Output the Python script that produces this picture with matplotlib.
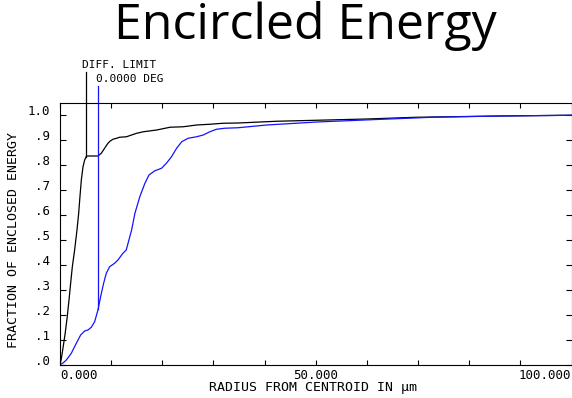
import matplotlib
matplotlib.use("Agg")
import matplotlib.pyplot as plt
from matplotlib.transforms import ScaledTranslation
import numpy as np

# Encircled energy vs radius (micrometres): diffraction limit and on-axis field
radius_diff = [0.0, 0.3, 0.6, 1.0, 1.4, 1.76, 2.08, 2.41, 2.86, 3.32, 3.65, 3.9, 4.17,
               4.5, 4.82, 5.2, 7.42, 8.07, 8.72, 9.38, 9.77, 10.35, 11.07, 11.65, 13.0,
               15.0, 16.3, 18.9, 21.5, 24.1, 26.7, 29.3, 31.9, 34.8, 42.4, 50.2, 60.0,
               69.7, 86.0, 100.0]
energy_diff = [0.0, 0.03, 0.07, 0.125, 0.19, 0.26, 0.327, 0.393, 0.46, 0.54, 0.607, 0.673, 0.74,
               0.793, 0.82, 0.836, 0.836, 0.847, 0.867, 0.887, 0.895, 0.903, 0.907, 0.911, 0.913,
               0.927, 0.933, 0.94, 0.951, 0.953, 0.96, 0.963, 0.967, 0.968, 0.975, 0.979, 0.984,
               0.991, 0.996, 0.999]

radius_field = [0.0, 0.6, 1.24, 2.21, 3.19, 4.04, 4.82, 5.47, 6.12, 6.77, 7.42, 7.94, 8.53,
                9.05, 9.7, 10.68, 11.33, 12.3, 12.95, 14.0, 14.65, 15.6, 16.6, 17.4, 18.55,
                19.86, 20.8, 21.8, 22.8, 23.8, 25.06, 26.7, 28.0, 29.3, 30.6, 32.2, 34.8,
                40.4, 50.2, 63.1, 72.9, 86.0, 100.0]
energy_field = [0.0, 0.008, 0.02, 0.047, 0.087, 0.12, 0.136, 0.14, 0.151, 0.173, 0.22, 0.273, 0.327,
                0.367, 0.393, 0.407, 0.42, 0.447, 0.46, 0.54, 0.607, 0.673, 0.727, 0.76, 0.777,
                0.787, 0.807, 0.833, 0.867, 0.893, 0.907, 0.913, 0.92, 0.933, 0.943, 0.947, 0.949,
                0.96, 0.972, 0.983, 0.991, 0.996, 0.999]

xtick_values = list(range(0, 101, 10))
xtick_labels = ["0.000", "", "", "", "", "50.000", "", "", "", "", "100.000"]
ytick_values = [i / 10 for i in range(11)]
ytick_labels = [".0", ".1", ".2", ".3", ".4", ".5", ".6", ".7", ".8", ".9", "1.0"]

diff_marker_x = 5.08
diff_marker_top = 1.173
field_marker_x = 7.45
field_marker_top = 1.117

mono = "DejaVu Sans Mono"
blue = "#1414ff"

fig = plt.figure(figsize=(5.72, 3.98), dpi=100)
ax = fig.add_axes([60 / 572, 33 / 398, 511.5 / 572, 262 / 398])

ax.plot(radius_diff, energy_diff, color="black", lw=0.9)
ax.plot(radius_field, energy_field, color=blue, lw=0.9)

# marker lines rising from each curve to its caption
ax.plot([diff_marker_x, diff_marker_x],
        [np.interp(diff_marker_x, radius_diff, energy_diff), diff_marker_top],
        color="black", lw=0.9, clip_on=False)
ax.plot([field_marker_x, field_marker_x],
        [np.interp(field_marker_x, radius_field, energy_field), field_marker_top],
        color=blue, lw=0.9, clip_on=False)

ax.text(4.36, 1.187, "DIFF. LIMIT", family=mono, fontsize=8, ha="left",
        va="baseline", clip_on=False)
ax.text(6.97, 1.131, "0.0000 DEG", family=mono, fontsize=8, ha="left",
        va="baseline", clip_on=False)

ax.set_xlim(0, 100)
ax.set_ylim(0, 1.048)

ax.set_xticks(xtick_values)
ax.set_xticklabels(xtick_labels, family=mono, fontsize=9)
ax.set_yticks(ytick_values)
ax.set_yticklabels(ytick_labels, family=mono, fontsize=9)

ax.tick_params(axis="x", direction="in", top=True, length=3.3, width=0.8, pad=3)
ax.tick_params(axis="y", direction="in", right=True, length=4.5, width=0.8, pad=7)

xl = ax.get_xticklabels()
xl[0].set_ha("left")
xl[-1].set_ha("right")

shift = ScaledTranslation(0, 5 / 100, fig.dpi_scale_trans)
for lab in ax.get_yticklabels():
    lab.set_transform(lab.get_transform() + shift)

for sp in ax.spines.values():
    sp.set_linewidth(0.8)

ax.set_xlabel("RADIUS FROM CENTROID IN \u00b5m", family=mono, fontsize=9.5, va="top")
ax.xaxis.set_label_coords(0.495, -0.062)
ax.set_ylabel("FRACTION OF ENCLOSED ENERGY", family=mono, fontsize=9.5)
ax.yaxis.set_label_coords(-0.079, 0.477)

fig.text(305 / 572, 358.7 / 398, "Encircled Energy", family="Open Sans",
         fontsize=36, ha="center", va="baseline")

fig.savefig("out.png", dpi=100)
